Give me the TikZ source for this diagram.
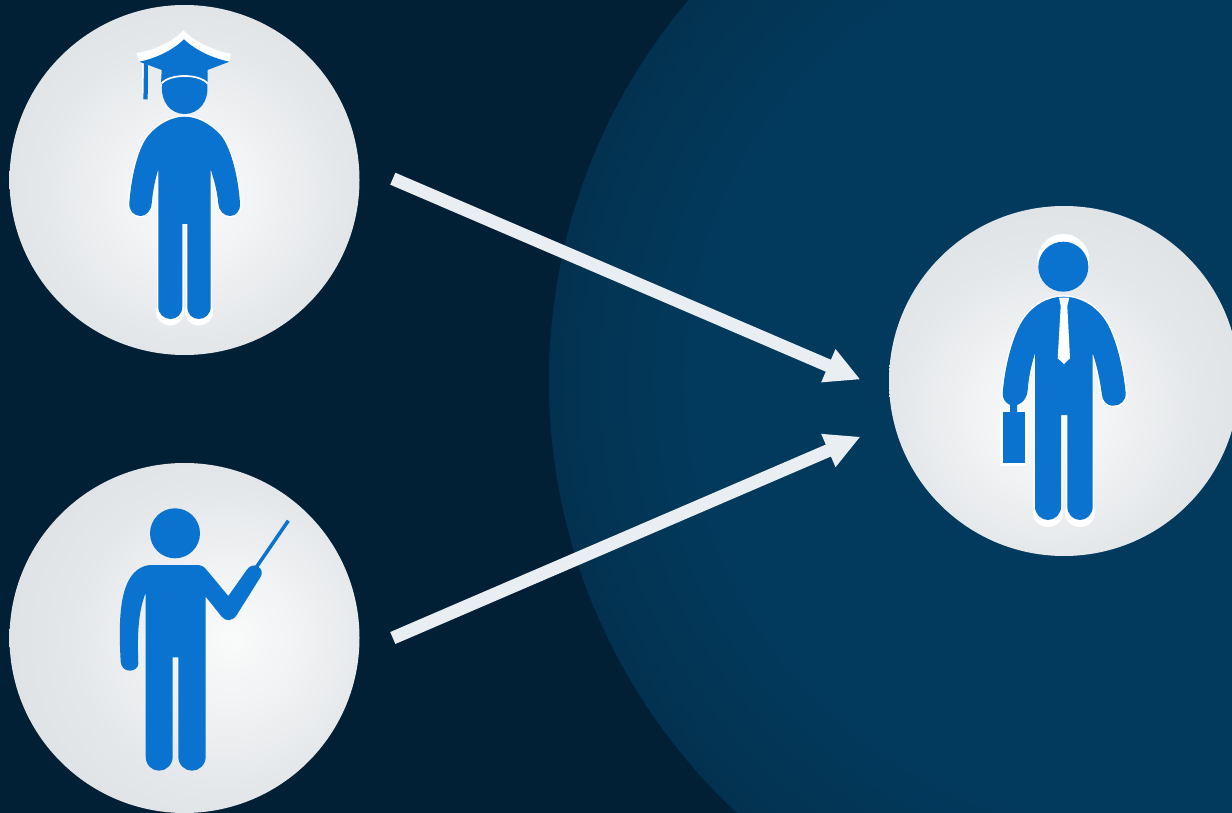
\documentclass[tikz,border=0pt]{standalone}
\usetikzlibrary{arrows.meta}
\definecolor{bgdark}{HTML}{012035}
\definecolor{bigin}{HTML}{023A5D}
\definecolor{bigout}{HTML}{033250}
\definecolor{figblue}{HTML}{0973CF}
\definecolor{arrowcol}{HTML}{E9EEF2}
\definecolor{discout}{HTML}{D8DCDF}
\definecolor{discmid}{HTML}{E4E7EA}
\definecolor{discin}{HTML}{F9FAFA}
\pgfdeclareradialshading{discA}{\pgfpoint{1bp}{-2bp}}{color(0bp)=(discin);color(8bp)=(discin!70!discmid);color(22bp)=(discmid);color(44bp)=(discout);color(100bp)=(discout)}
\pgfdeclareradialshading{discB}{\pgfpoint{7bp}{0bp}}{color(0bp)=(discin);color(8bp)=(discin!70!discmid);color(22bp)=(discmid);color(44bp)=(discout);color(100bp)=(discout)}
\pgfdeclareradialshading{discC}{\pgfpoint{-3bp}{-5bp}}{color(0bp)=(discin);color(8bp)=(discin!70!discmid);color(22bp)=(discmid);color(44bp)=(discout);color(100bp)=(discout)}
\tikzset{
  disc/.style={circle,minimum size=350pt,inner sep=0pt,outer sep=0pt,shading=#1},
  halo/.style={fill=white,draw=white,line width=3pt,line join=round},
  flow/.style={draw=arrowcol,line width=13pt,-{Triangle[length=35pt,width=33.5pt,fill=arrowcol]}},
}
\begin{document}
\begin{tikzpicture}[x=1pt,y=-1pt]
\useasboundingbox (0,0) rectangle (1232,813);
\fill[bgdark] (0,0) rectangle (1232,813);
\begin{scope}
\clip (0,0) rectangle (1232,813);
\node[circle,minimum size=1180pt,inner sep=0pt,fill=bigout] (big) at (1139,381) {};
\foreach \k in {1,...,30}{
  \pgfmathsetmacro{\rr}{590-5*\k}
  \pgfmathsetmacro{\pp}{100*\k/30}
  \fill[bigin!\pp!bigout] (big.center) circle (\rr);
}
\end{scope}
\node[disc=discA] (grad) at (184.5,180) {};
\node[disc=discB] (teach) at (184.5,638) {};
\node[disc=discC] (emp) at (1064,381) {};

\coordinate (g0) at (392.8,178.7);
\coordinate (g1) at (860.5,379.5);
\coordinate (t0) at (392.8,638);
\coordinate (t1) at (860.5,436.7);
\draw[flow] (g0) -- (g1);
\draw[flow] (t0) -- (t1);

% graduate
\def\gradbody{(184.5,116.7) .. controls (197,116.7) and (211,124) .. (221.4,136)
 .. controls (232,150) and (238.5,180) .. (240,203.3)
 .. controls (240.5,211) and (236,216) .. (230,216)
 .. controls (224,216) and (219,211) .. (218.3,203.3)
 .. controls (217,190) and (214,180) .. (210.7,169.3)
 -- (210.7,306.7) .. controls (210.7,314) and (205,319) .. (199,319)
 .. controls (192,319) and (187.3,314) .. (187.3,306.7) -- (187.3,224) -- (182.3,224) -- (182.3,306.7)
 .. controls (182.3,314) and (177,319) .. (170.5,319)
 .. controls (164,319) and (158.3,314) .. (158.3,306.7) -- (158.3,169.3)
 .. controls (155,180) and (153,190) .. (151.7,203.3)
 .. controls (151,211) and (146,216) .. (140.7,216)
 .. controls (134,216) and (129,211) .. (129.3,203.3)
 .. controls (131,180) and (137,150) .. (148,136)
 .. controls (158,124) and (172,116.7) .. (184.5,116.7) -- cycle}
\path[halo] \gradbody;
\fill[white] (170,312) ellipse (14 and 13.5);
\fill[white] (199,312) ellipse (14 and 13.5);
\fill[figblue] \gradbody;
% cap halo
\fill[white] (183.5,30.5) .. controls (195,42) and (213,50) .. (231,54) -- (229,62) -- (139,62) -- (136.5,53)
 .. controls (155,50) and (172,42) .. (183.5,30.5) -- cycle;
\fill[white] (141.7,63) -- (145,63) -- (145,94) -- (141.7,94) -- cycle;
\fill[figblue] (184,39.3) .. controls (195,50) and (212,58) .. (229.3,61.7) -- (207.5,70) -- (207.5,84) -- (161,84) -- (161.7,70) -- (139.3,61.7)
 .. controls (157,58) and (173,50) .. (184,39.3) -- cycle;
\fill[figblue] (144,63) -- (148,65) -- (147.7,99.3) -- (143.4,99.3) -- cycle;
\fill[figblue] (162.2,84) .. controls (170,74.5) and (199,74.5) .. (207.2,84)
 .. controls (209.5,102) and (198,114) .. (184.7,114)
 .. controls (171,114) and (160,102) .. (162.2,84) -- cycle;
\draw[white,line width=1.7pt] (161.5,83.5) .. controls (170,73.5) and (199,73.5) .. (207.7,83.5);

% teacher
\fill[figblue] (175,533.3) circle (25);
\draw[figblue,line width=3.5pt] (256.7,566.7) -- (288.3,520.7);
\fill[figblue] (151.7,565) -- (197,565)
 .. controls (201,565) and (204,566.5) .. (206.7,570)
 -- (228.3,596) -- (246.7,570)
 .. controls (249,566) and (254,564) .. (258,566.5)
 .. controls (262,569) and (263,573) .. (260.5,577)
 -- (236.7,615) .. controls (233,621) and (226,622) .. (221.7,616.7)
 -- (205.7,596.7) -- (205.7,756.7)
 .. controls (205.7,765) and (199,770.7) .. (192,770.7)
 .. controls (185,770.7) and (178.3,765) .. (178.3,756.7) -- (178.3,657.3) -- (172.7,657.3) -- (172.7,756.7)
 .. controls (172.7,765) and (166,770.7) .. (159,770.7)
 .. controls (152,770.7) and (145.7,765) .. (145.7,756.7) -- (145.7,592.7)
 .. controls (139,610) and (137,630) .. (138.3,663.3)
 .. controls (138.5,668) and (134,670.7) .. (129.5,670.7)
 .. controls (125,670.7) and (121,667) .. (120.7,661.7)
 .. controls (119,632) and (119,602) .. (127,584)
 .. controls (132,572) and (141,565) .. (151.7,565) -- cycle;

% employee
\def\empbody{(1063.5,296.7) .. controls (1079,296.7) and (1095,305) .. (1105,320)
 .. controls (1115,335) and (1123,365) .. (1125.7,393.3)
 .. controls (1126,401) and (1120,405.7) .. (1113.3,405.7)
 .. controls (1106,405.7) and (1102,400) .. (1101.7,393.3)
 .. controls (1100,380) and (1097,366) .. (1092.7,353.3)
 -- (1092.7,506.7) .. controls (1092.7,514) and (1087,520) .. (1080,520)
 .. controls (1073,520) and (1067.3,514) .. (1067.3,506.7) -- (1067.3,415) -- (1061,415) -- (1061,506.7)
 .. controls (1061,514) and (1055,520) .. (1048,520)
 .. controls (1041,520) and (1035,514) .. (1035,506.7) -- (1035,353.3)
 .. controls (1031,366) and (1028.5,378) .. (1027.7,390)
 .. controls (1027,398) and (1023,403) .. (1017,405)
 -- (1017,412) -- (1010,412) -- (1010,405)
 .. controls (1005,403) and (1002.5,398) .. (1002.7,393.3)
 .. controls (1005,365) and (1013,335) .. (1023,320)
 .. controls (1033,305) and (1048,296.7) .. (1063.5,296.7) -- cycle}
\fill[white] (1063.3,260) circle (26);
\path[halo] \empbody;
\fill[white] (1048,513) ellipse (15 and 14);
\fill[white] (1080,513) ellipse (15 and 14);
\fill[white] (999.5,409.5) rectangle (1027,466);
\fill[figblue] (1063.3,266.7) circle (25);
\fill[figblue] \empbody;
\fill[figblue] (1002.7,411.7) rectangle (1025,463.3);
\fill[white] (1059,297.7) -- (1069.3,297.7) -- (1067.3,306) -- (1070,358.3) -- (1064,364) -- (1057.7,358.3) -- (1060.7,306) -- cycle;
\end{tikzpicture}
\end{document}
